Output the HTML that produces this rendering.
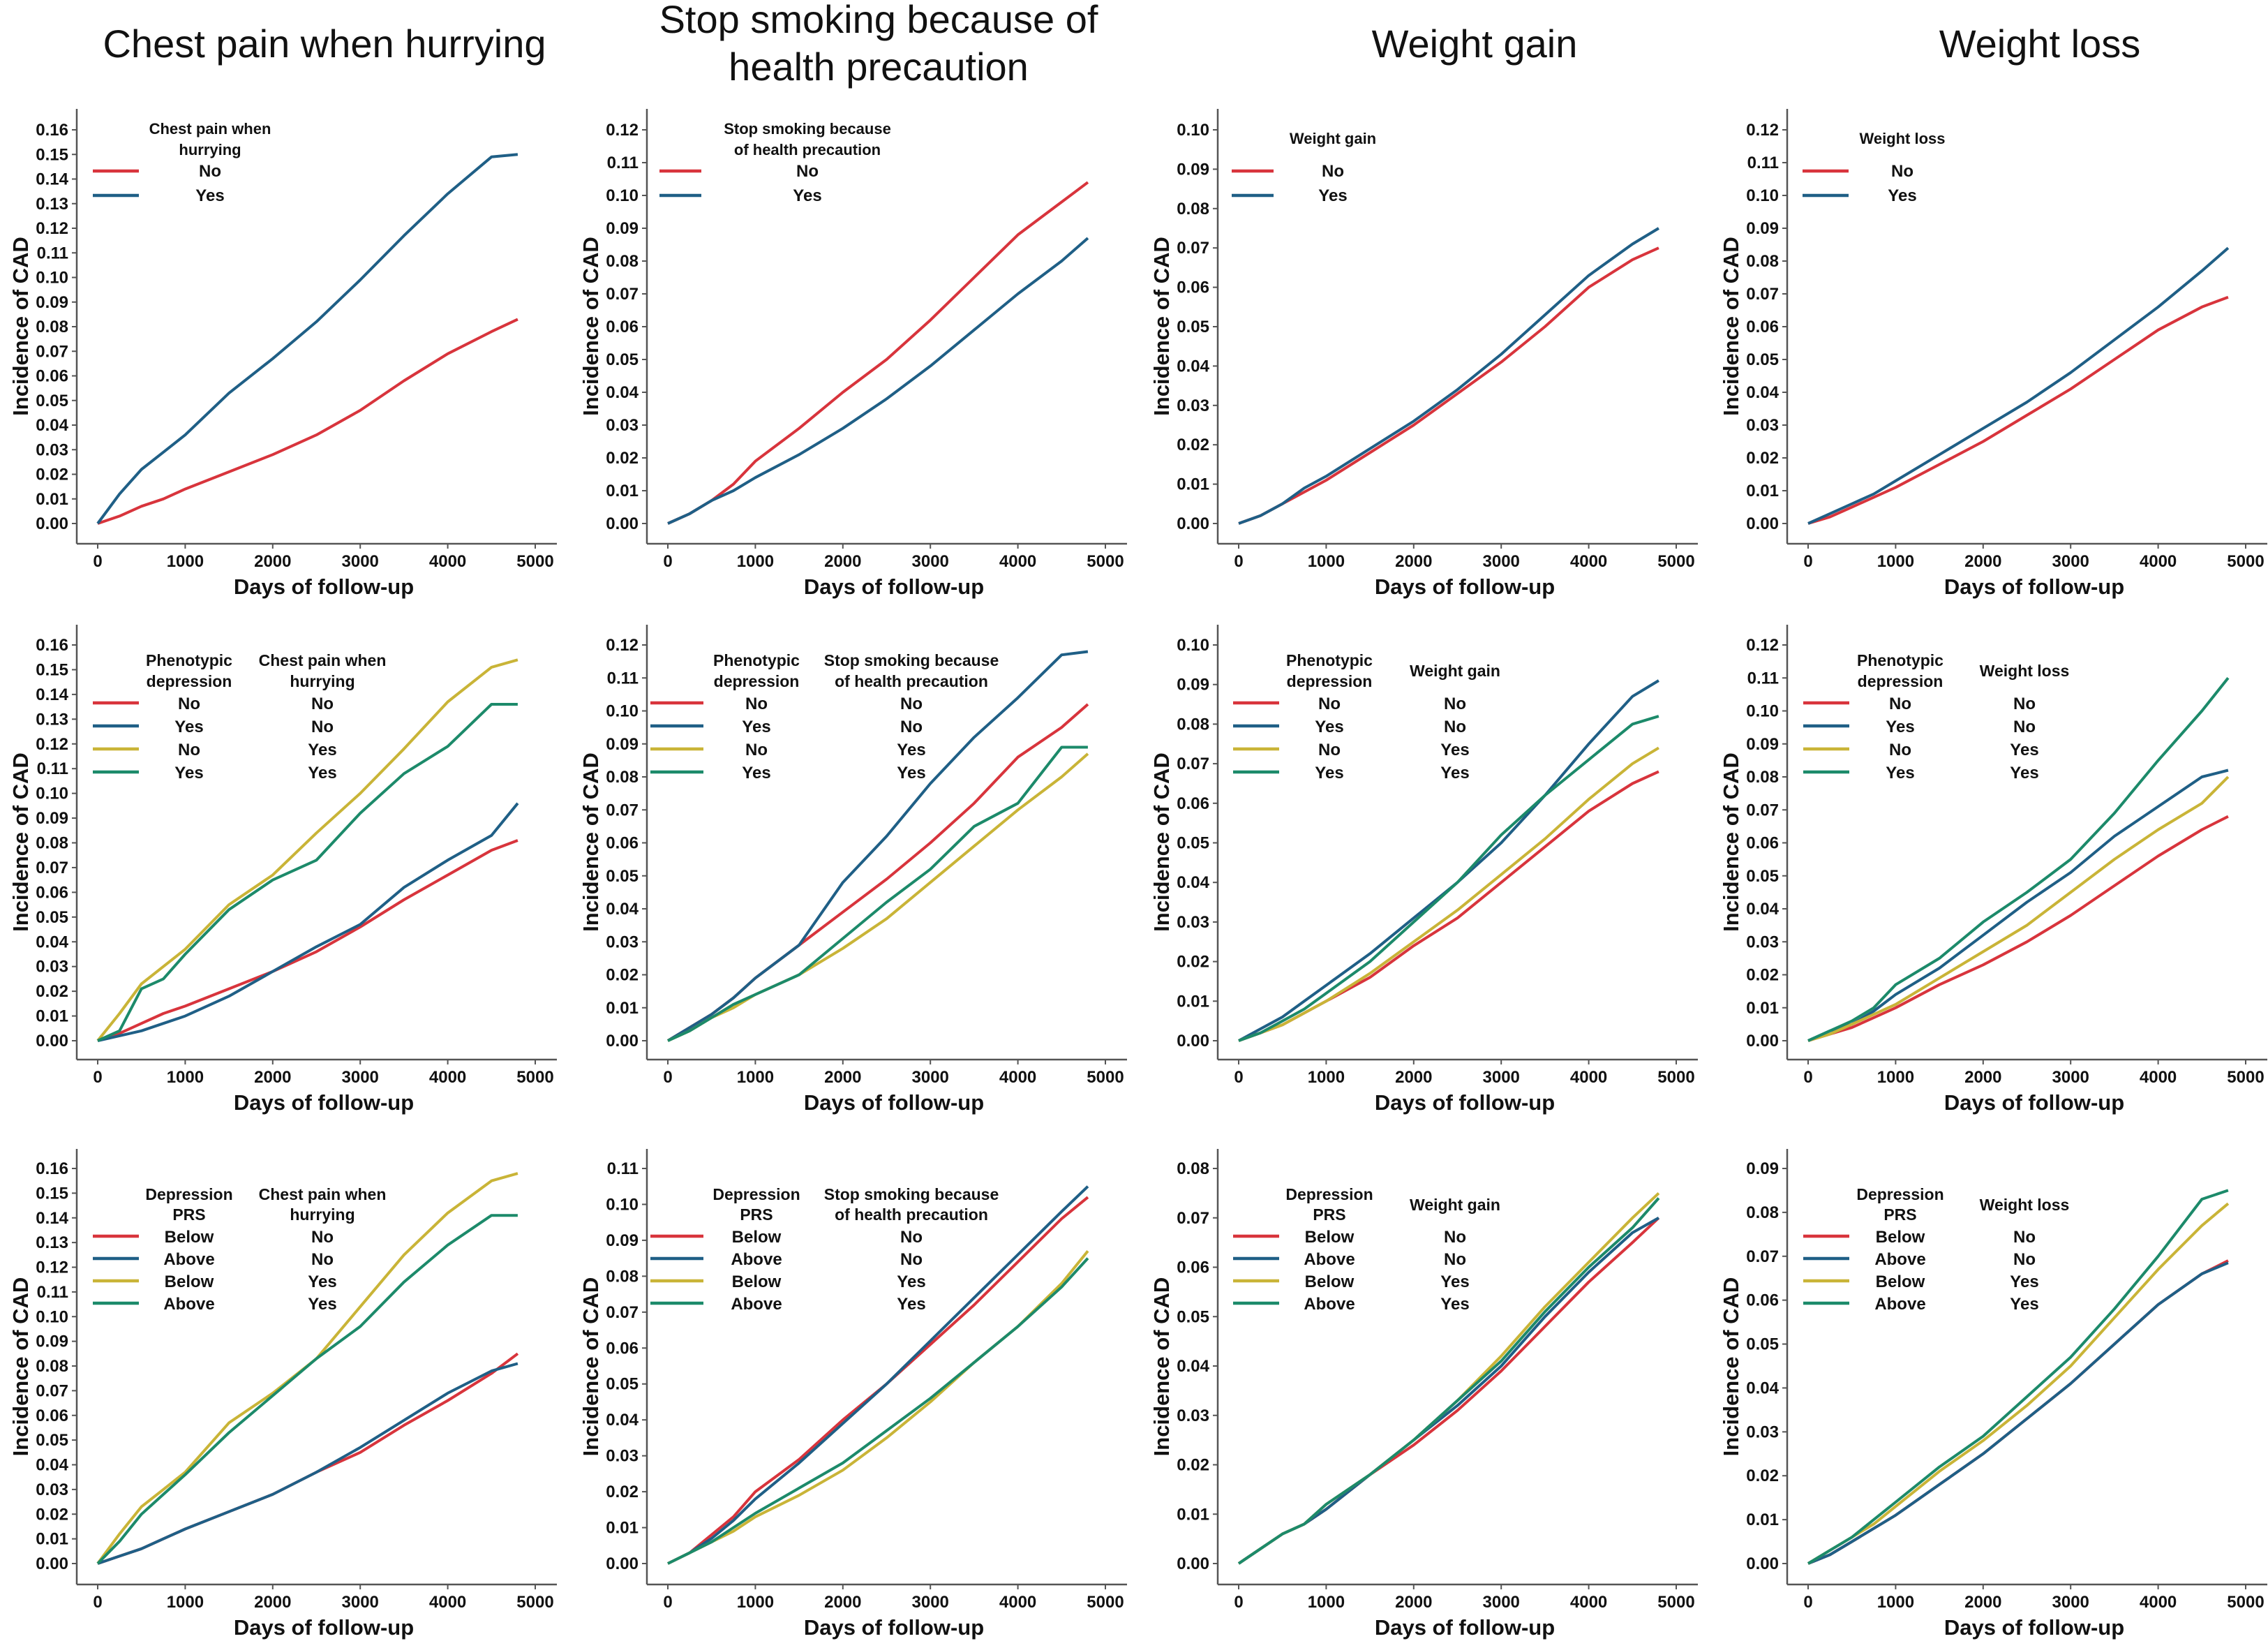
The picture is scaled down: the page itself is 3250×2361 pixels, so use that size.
<!DOCTYPE html>
<html><head><meta charset="utf-8">
<style>
html,body{margin:0;padding:0;background:#fff;}
svg{display:block;font-family:"Liberation Sans",Arial,sans-serif;}
</style></head>
<body>
<svg id="chart" width="3250" height="2361" viewBox="0 0 3250 2361" xmlns="http://www.w3.org/2000/svg"></svg>
<script>
// ---- data ----
const days = [0,250,500,750,1000,1500,2000,2500,3000,3500,4000,4500,4800];
const xTicks = [0,1000,2000,3000,4000,5000];
const colTitles = [["Chest pain when hurrying"],["Stop smoking because of","health precaution"],["Weight gain"],["Weight loss"]];
const yMaxTicks = [[0.16,0.12,0.10,0.12],[0.16,0.12,0.10,0.12],[0.16,0.11,0.08,0.09]];

// row 1
const r1c1_no  = [0,0.003,0.007,0.010,0.014,0.021,0.028,0.036,0.046,0.058,0.069,0.078,0.083];
const r1c1_yes = [0,0.012,0.022,0.029,0.036,0.053,0.067,0.082,0.099,0.117,0.134,0.149,0.150];
const r1c2_no  = [0,0.003,0.007,0.012,0.019,0.029,0.040,0.050,0.062,0.075,0.088,0.098,0.104];
const r1c2_yes = [0,0.003,0.007,0.010,0.014,0.021,0.029,0.038,0.048,0.059,0.070,0.080,0.087];
const r1c3_no  = [0,0.002,0.005,0.008,0.011,0.018,0.025,0.033,0.041,0.050,0.060,0.067,0.070];
const r1c3_yes = [0,0.002,0.005,0.009,0.012,0.019,0.026,0.034,0.043,0.053,0.063,0.071,0.075];
const r1c4_no  = [0,0.002,0.005,0.008,0.011,0.018,0.025,0.033,0.041,0.050,0.059,0.066,0.069];
const r1c4_yes = [0,0.003,0.006,0.009,0.013,0.021,0.029,0.037,0.046,0.056,0.066,0.077,0.084];
// row 2 (phenotypic depression x factor)
const r2c1_s1 = [0,0.003,0.007,0.011,0.014,0.021,0.028,0.036,0.046,0.057,0.067,0.077,0.081];
const r2c1_s2 = [0,0.002,0.004,0.007,0.010,0.018,0.028,0.038,0.047,0.062,0.073,0.083,0.096];
const r2c1_s3 = [0,0.011,0.023,0.030,0.037,0.055,0.067,0.084,0.100,0.118,0.137,0.151,0.154];
const r2c1_s4 = [0,0.004,0.021,0.025,0.035,0.053,0.065,0.073,0.092,0.108,0.119,0.136,0.136];
const r2c2_s1 = [0,0.004,0.008,0.013,0.019,0.029,0.039,0.049,0.060,0.072,0.086,0.095,0.102];
const r2c2_s2 = [0,0.004,0.008,0.013,0.019,0.029,0.048,0.062,0.078,0.092,0.104,0.117,0.118];
const r2c2_s3 = [0,0.003,0.007,0.010,0.014,0.020,0.028,0.037,0.048,0.059,0.070,0.080,0.087];
const r2c2_s4 = [0,0.003,0.007,0.011,0.014,0.020,0.031,0.042,0.052,0.065,0.072,0.089,0.089];
const r2c3_s1 = [0,0.002,0.004,0.007,0.010,0.016,0.024,0.031,0.040,0.049,0.058,0.065,0.068];
const r2c3_s2 = [0,0.003,0.006,0.010,0.014,0.022,0.031,0.040,0.050,0.062,0.075,0.087,0.091];
const r2c3_s3 = [0,0.002,0.004,0.007,0.010,0.017,0.025,0.033,0.042,0.051,0.061,0.070,0.074];
const r2c3_s4 = [0,0.002,0.005,0.008,0.012,0.020,0.030,0.040,0.052,0.062,0.071,0.080,0.082];
const r2c4_s1 = [0,0.002,0.004,0.007,0.010,0.017,0.023,0.030,0.038,0.047,0.056,0.064,0.068];
const r2c4_s2 = [0,0.003,0.005,0.009,0.014,0.022,0.032,0.042,0.051,0.062,0.071,0.080,0.082];
const r2c4_s3 = [0,0.002,0.005,0.008,0.011,0.019,0.027,0.035,0.045,0.055,0.064,0.072,0.080];
const r2c4_s4 = [0,0.003,0.006,0.010,0.017,0.025,0.036,0.045,0.055,0.069,0.085,0.100,0.110];
// row 3 (depression PRS x factor)
const r3c1_s1 = [0,0.003,0.006,0.010,0.014,0.021,0.028,0.037,0.045,0.056,0.066,0.077,0.085];
const r3c1_s2 = [0,0.003,0.006,0.010,0.014,0.021,0.028,0.037,0.047,0.058,0.069,0.078,0.081];
const r3c1_s3 = [0,0.012,0.023,0.030,0.037,0.057,0.069,0.083,0.104,0.125,0.142,0.155,0.158];
const r3c1_s4 = [0,0.009,0.020,0.028,0.036,0.053,0.068,0.083,0.096,0.114,0.129,0.141,0.141];
const r3c2_s1 = [0,0.003,0.008,0.013,0.020,0.029,0.040,0.050,0.061,0.072,0.084,0.096,0.102];
const r3c2_s2 = [0,0.003,0.007,0.012,0.018,0.028,0.039,0.050,0.062,0.074,0.086,0.098,0.105];
const r3c2_s3 = [0,0.003,0.006,0.009,0.013,0.019,0.026,0.035,0.045,0.056,0.066,0.078,0.087];
const r3c2_s4 = [0,0.003,0.006,0.010,0.014,0.021,0.028,0.037,0.046,0.056,0.066,0.077,0.085];
const r3c3_s1 = [0,0.003,0.006,0.008,0.011,0.018,0.024,0.031,0.039,0.048,0.057,0.065,0.070];
const r3c3_s2 = [0,0.003,0.006,0.008,0.011,0.018,0.025,0.032,0.040,0.050,0.059,0.067,0.070];
const r3c3_s3 = [0,0.003,0.006,0.008,0.012,0.018,0.025,0.033,0.042,0.052,0.061,0.070,0.075];
const r3c3_s4 = [0,0.003,0.006,0.008,0.012,0.018,0.025,0.033,0.041,0.051,0.060,0.068,0.074];
const r3c4_s1 = [0,0.002,0.005,0.008,0.011,0.018,0.025,0.033,0.041,0.050,0.059,0.066,0.069];
const r3c4_s2 = [0,0.002,0.005,0.008,0.011,0.018,0.025,0.033,0.041,0.050,0.059,0.066,0.0685];
const r3c4_s3 = [0,0.003,0.006,0.009,0.013,0.021,0.028,0.036,0.045,0.056,0.067,0.077,0.082];
const r3c4_s4 = [0,0.003,0.006,0.010,0.014,0.022,0.029,0.038,0.047,0.058,0.070,0.083,0.085];

const legTitles1 = [["Chest pain when","hurrying"],["Stop smoking because","of health precaution"],["Weight gain"],["Weight loss"]];
const rowA2 = ["No","Yes","No","Yes"];
const rowA3 = ["Below","Above","Below","Above"];
const rowB = ["No","No","Yes","Yes"];

// ---- layout ----
const RED="#d8343c", BLUE="#1f5f86", GOLD="#c9b437", GREEN="#1c8a6a", AX="#555";
const colX=[110,927,1745,2561];
const rows=[{top:156,yt:186,y0:750,xa:779},{top:895,yt:924,y0:1491,xa:1518},{top:1646,yt:1674,y0:2240,xa:2270}];
const svg=document.getElementById('chart');
const NS="http://www.w3.org/2000/svg";
function mk(tag,attrs,parent,text){const e=document.createElementNS(NS,tag);for(const k in attrs)e.setAttribute(k,attrs[k]);if(text!==undefined)e.textContent=text;(parent||svg).appendChild(e);return e;}

colTitles.forEach((lines,c)=>{
  const g=mk('g',{});
  
  
  const cx=colX[c]+(c===0?355:(c===1?332:(c===2?368:362)));
  lines.forEach((t,i)=>{
    const y = lines.length===2 ? 47+i*68 : 82;
    mk('text',{x:cx,y:y,'text-anchor':'middle','font-size':56,fill:'#111'},g,t);
  });
});

const seriesData = [
  [[r1c1_no,r1c1_yes],[r1c2_no,r1c2_yes],[r1c3_no,r1c3_yes],[r1c4_no,r1c4_yes]],
  [[r2c1_s1,r2c1_s2,r2c1_s3,r2c1_s4],[r2c2_s1,r2c2_s2,r2c2_s3,r2c2_s4],[r2c3_s1,r2c3_s2,r2c3_s3,r2c3_s4],[r2c4_s1,r2c4_s2,r2c4_s3,r2c4_s4]],
  [[r3c1_s1,r3c1_s2,r3c1_s3,r3c1_s4],[r3c2_s1,r3c2_s2,r3c2_s3,r3c2_s4],[r3c3_s1,r3c3_s2,r3c3_s3,r3c3_s4],[r3c4_s1,r3c4_s2,r3c4_s3,r3c4_s4]]
];
const colors2=[RED,BLUE], colors4=[RED,BLUE,GOLD,GREEN];
const leg1=[[23,89,191],[18,78,230],[20,80,165],[22,88,165]];
const leg23=[[23,89,161,352],[5,81,157,379],[22,88,160,340],[23,89,162,340]];
const legV=[[36,30,89,35],[59,30,112,33],[73,29,125,32]];

for(let r=0;r<3;r++){
  for(let c=0;c<4;c++){
    const R=rows[r], ax=colX[c];
    const ymax=yMaxTicks[r][c];
    const x0=ax+30, x1=ax+657;
    const xs=d=>x0+(x1-x0)*d/5000;
    const ys=v=>R.y0-(R.y0-R.yt)*v/ymax;
    const g=mk('g',{});
    
    
    const ya=mk('line',{x1:ax,y1:R.top,x2:ax,y2:R.xa,stroke:AX,'stroke-width':2.5},g);
    
    
    const xa=mk('line',{x1:ax,y1:R.xa,x2:ax+688,y2:R.xa,stroke:AX,'stroke-width':2.5},g);
    
    
    const nT=Math.round(ymax/0.01);
    for(let i=0;i<=nT;i++){
      const v=i*0.01, y=ys(v);
      mk('line',{x1:ax-7,y1:y,x2:ax,y2:y,stroke:AX,'stroke-width':2},g);
      const t=mk('text',{x:ax-12,y:y+8,'text-anchor':'end','font-size':24,'font-weight':'bold',fill:'#111'},g,v.toFixed(2));
      
      
    }
    xTicks.forEach(d=>{
      const x=xs(d);
      mk('line',{x1:x,y1:R.xa,x2:x,y2:R.xa+7,stroke:AX,'stroke-width':2},g);
      const t=mk('text',{x:x,y:R.xa+33,'text-anchor':'middle','font-size':24,'font-weight':'bold',fill:'#111'},g,String(d));
      
      
    });
    const xt=mk('text',{x:ax+354,y:R.xa+72,'text-anchor':'middle','font-size':31,'font-weight':'bold',fill:'#111'},g,'Days of follow-up');
    
    
    const my=(R.top+R.xa)/2;
    const yt=mk('text',{x:0,y:0,transform:'translate('+(ax-70)+','+my+') rotate(-90)','text-anchor':'middle','font-size':31,'font-weight':'bold',fill:'#111'},g,'Incidence of CAD');
    
    
    const sers=seriesData[r][c];
    const cols=sers.length===2?colors2:colors4;
    sers.forEach((vals,si)=>{
      let d='';
      vals.forEach((v,i)=>{d+=(i?'L':'M')+xs(days[i]).toFixed(1)+','+ys(v).toFixed(1);});
      const p=mk('path',{d:d,fill:'none',stroke:cols[si],'stroke-width':4,'stroke-linejoin':'round'},g);
      
      
    });
    const lg=mk('g',{},g);
    
    
    const top=R.top, V=legV[r];
    if(r===0){
      const L=leg1[c];
      const tl=legTitles1[c];
      tl.forEach((t,i)=>{
        const yy = tl.length===2 ? top+V[0]+i*V[1] : top+50;
        mk('text',{x:ax+L[2],y:yy,'text-anchor':'middle','font-size':22,'font-weight':'bold',fill:'#111'},lg,t);
      });
      ['No','Yes'].forEach((t,i)=>{
        const ly=top+V[2]+i*V[3];
        const ln=mk('line',{x1:ax+L[0],y1:ly,x2:ax+L[1],y2:ly,stroke:cols[i],'stroke-width':4.5},lg);
        
        
        const tx=mk('text',{x:ax+L[2],y:ly+8,'text-anchor':'middle','font-size':24,'font-weight':'bold',fill:'#111'},lg,t);
        
        
      });
    } else {
      const L=leg23[c];
      const tA = r===1?['Phenotypic','depression']:['Depression','PRS'];
      const base = top+V[0];
      tA.forEach((t,i)=>mk('text',{x:ax+L[2],y:base+i*V[1],'text-anchor':'middle','font-size':23,'font-weight':'bold',fill:'#111'},lg,t));
      const tb=legTitles1[c];
      tb.forEach((t,i)=>{
        const yy = tb.length===2 ? base+i*V[1] : base+15;
        mk('text',{x:ax+L[3],y:yy,'text-anchor':'middle','font-size':23,'font-weight':'bold',fill:'#111'},lg,t);
      });
      const labA = r===1?rowA2:rowA3;
      for(let i=0;i<4;i++){
        const ly=top+V[2]+i*V[3];
        const ln=mk('line',{x1:ax+L[0],y1:ly,x2:ax+L[1],y2:ly,stroke:cols[i],'stroke-width':4.5},lg);
        
        
        const ta=mk('text',{x:ax+L[2],y:ly+9,'text-anchor':'middle','font-size':24,'font-weight':'bold',fill:'#111'},lg,labA[i]);
        
        
        const tb2=mk('text',{x:ax+L[3],y:ly+9,'text-anchor':'middle','font-size':24,'font-weight':'bold',fill:'#111'},lg,rowB[i]);
        
        
      }
    }
  }
}
</script>
</body></html>
